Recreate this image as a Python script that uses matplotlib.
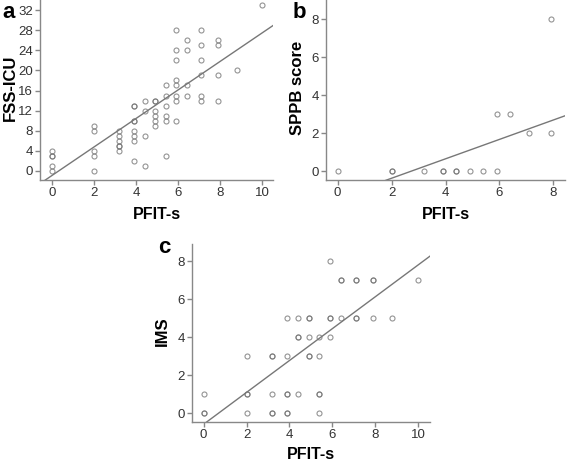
import numpy as np
import matplotlib
matplotlib.use('Agg')
import matplotlib.pyplot as plt

plt.rcParams['font.family'] = ['Liberation Sans', 'DejaVu Sans']

# panel a: PFIT-s vs FSS-ICU
pfit_a = [0, 0, 0, 0, 0,
          2, 2, 2, 2, 2,
          3.2, 3.2, 3.2, 3.2, 3.2, 3.2,
          3.9, 3.9, 3.9, 3.9, 3.9, 3.9, 3.9, 3.9,
          4.4, 4.4, 4.4, 4.4,
          4.9, 4.9, 4.9, 4.9, 4.9, 4.9,
          5.4, 5.4, 5.4, 5.4, 5.4, 5.4,
          5.9, 5.9, 5.9, 5.9, 5.9, 5.9, 5.9, 5.9,
          6.4, 6.4, 6.4, 6.4,
          7.1, 7.1, 7.1, 7.1, 7.1, 7.1,
          7.9, 7.9, 7.9, 7.9,
          8.8, 10]
fss_a = [4, 3, 3, 1, 0,
         9, 8, 4, 3, 0,
         8, 7, 6, 5, 5, 4,
         13, 13, 10, 10, 8, 7, 6, 2,
         14, 12, 7, 1,
         14, 14, 12, 11, 10, 9,
         17, 15, 13, 11, 10, 3,
         28, 24, 22, 18, 17, 15, 14, 10,
         26, 24, 17, 15,
         28, 25, 22, 19, 15, 14,
         26, 25, 19, 14,
         20, 33]
fit_a = (2.84, -0.9)   # slope, intercept

# panel b: PFIT-s vs SPPB score
pfit_b = [0, 2, 2, 3.2, 3.9, 3.9, 4.4, 4.4, 4.9, 5.4, 5.9, 5.9, 6.4, 7.1, 7.9, 7.9]
sppb_b = [0, 0, 0, 0, 0, 0, 0, 0, 0, 0, 0, 3, 3, 2, 2, 8]
fit_b = (0.511, -1.40)

# panel c: PFIT-s vs IMS
pfit_c = [0, 0, 0,
          2, 2, 2, 2,
          3.2, 3.2, 3.2, 3.2, 3.2,
          3.9, 3.9, 3.9, 3.9, 3.9, 3.9,
          4.4, 4.4, 4.4, 4.4,
          4.9, 4.9, 4.9, 4.9, 4.9,
          5.4, 5.4, 5.4, 5.4, 5.4,
          5.9, 5.9, 5.9, 5.9,
          6.4, 6.4, 6.4,
          7.1, 7.1, 7.1, 7.1,
          7.9, 7.9, 7.9,
          8.8, 10]
ims_c = [1, 0, 0,
         3, 1, 1, 0,
         3, 3, 1, 0, 0,
         5, 3, 1, 1, 0, 0,
         5, 4, 4, 1,
         5, 5, 4, 3, 3,
         4, 3, 1, 1, 0,
         8, 5, 5, 4,
         7, 7, 5,
         7, 7, 5, 5,
         7, 7, 5,
         5, 7]
fit_c = (0.839, -0.59)

W, H = 567, 463
fig = plt.figure(figsize=(W / 100, H / 100), dpi=100)

def px_axes(left, right, top, bottom):
    return fig.add_axes([left / W, 1 - bottom / H, (right - left) / W, (bottom - top) / H])

def style(ax, xticks, yticks, xlim, ylim, ylabel, ylab_x, xlab_y):
    for s in ['top', 'right']:
        ax.spines[s].set_visible(False)
    for s in ['left', 'bottom']:
        ax.spines[s].set_color('#888888')
        ax.spines[s].set_linewidth(1.0)
    ax.set_xlim(*xlim)
    ax.set_ylim(*ylim)
    ax.set_xticks(xticks)
    ax.set_yticks(yticks)
    ax.tick_params(direction='out', length=3.6, width=1, color='#888888',
                   labelcolor='#333333', labelsize=9.5, pad=1.5)
    ax.set_xlabel('PFIT-s', fontsize=11.5, fontweight='bold', va='top')
    ax.xaxis.set_label_coords(0.5, xlab_y)
    ax.set_ylabel(ylabel, fontsize=12, fontweight='bold')
    ax.yaxis.set_label_coords(ylab_x, 0.51)

def scatter_fit(ax, x, y, fit, xlim):
    ax.plot(x, y, 'o', ms=3.6, mfc='none', mec='#707070', mew=0.8, alpha=0.75, clip_on=False)
    xx = np.array(xlim)
    ax.plot(xx, fit[0] * xx + fit[1], color='#777777', lw=1.0)

ax_a = px_axes(40, 273, 0, 180)
scatter_fit(ax_a, pfit_a, fss_a, fit_a, (-0.57, 10.5))
style(ax_a, [0, 2, 4, 6, 8, 10], range(0, 33, 4), (-0.57, 10.5), (-1.8, 34), 'FSS-ICU', -0.094, -0.152)

ax_b = px_axes(326, 565, 0, 180)
scatter_fit(ax_b, pfit_b, sppb_b, fit_b, (-0.43, 8.43))
style(ax_b, [0, 2, 4, 6, 8], [0, 2, 4, 6, 8], (-0.43, 8.43), (-0.47, 9.0), 'SPPB score', -0.088, -0.152)

ax_c = px_axes(192, 430, 244, 422)
scatter_fit(ax_c, pfit_c, ims_c, fit_c, (-0.54, 10.55))
style(ax_c, [0, 2, 4, 6, 8, 10], [0, 2, 4, 6, 8], (-0.54, 10.55), (-0.47, 8.9), 'IMS', -0.092, -0.143)

for lab, x, y in [('a', 2, 18), ('b', 293, 18), ('c', 158, 253)]:
    fig.text(x / W, 1 - y / H, lab, fontsize=16, fontweight='bold', va='baseline', ha='left')

fig.savefig('out.png', dpi=100)
